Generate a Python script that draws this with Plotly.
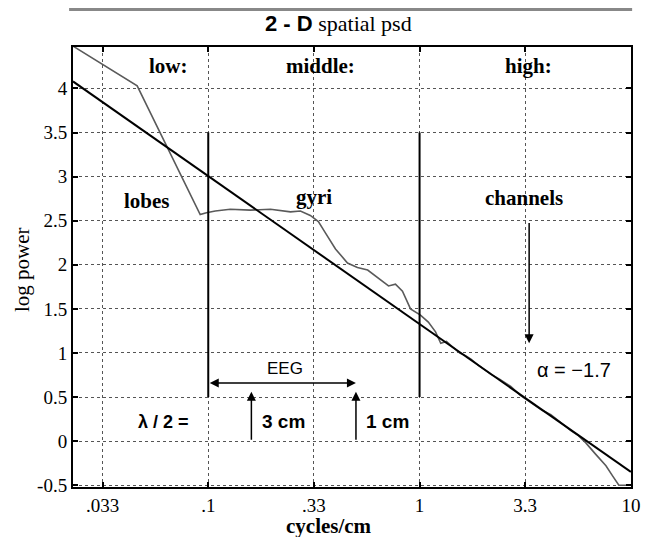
import math
import plotly.graph_objects as go

# ---- data ----
psd_freq = [0.0229, 0.0461, 0.0916, 0.098, 0.108, 0.127, 0.158, 0.197, 0.245, 0.273,
            0.304, 0.332, 0.359, 0.400, 0.456, 0.508, 0.568, 0.653, 0.713, 0.769,
            0.830, 0.906, 1.01, 1.10, 1.19, 1.26, 1.34, 1.43, 1.55, 1.65, 1.75, 1.9,
            2.17, 2.4, 2.70, 3.0, 3.36, 3.8, 4.18, 4.6, 5.20, 5.6, 6.12, 6.82, 7.62,
            8.22, 8.77, 10.0]
psd_logpow = [4.48, 4.03, 2.57, 2.59, 2.61, 2.63, 2.62, 2.63, 2.60, 2.61,
              2.56, 2.49, 2.36, 2.18, 2.02, 1.97, 1.94, 1.83, 1.76, 1.78,
              1.70, 1.50, 1.43, 1.35, 1.24, 1.11, 1.13, 1.07, 1.00, 0.97, 0.93, 0.86,
              0.76, 0.70, 0.62, 0.52, 0.44, 0.35, 0.30, 0.22, 0.12, 0.07, -0.02, -0.15, -0.28,
              -0.40, -0.50, -0.50]
fit_freq = [0.0229, 10.0]
fit_logpow = [4.08, -0.35]
band_bounds = [0.1, 1.0]
x_tickvals = [0.0316, 0.1, 0.316, 1.0, 3.16, 10.0]
x_ticktext = [".033", ".1", ".33", "1", "3.3", "10"]
y_tickvals = [-0.5, 0, 0.5, 1, 1.5, 2, 2.5, 3, 3.5, 4]
y_ticktext = ["-0.5", "0", "0.5", "1", "1.5", "2", "2.5", "3", "3.5", "4"]
eeg_range = [0.1, 0.5]
lambda_marks = [0.16, 0.5]

SERIF = "Liberation Serif"
SANS = "Liberation Sans"
L = math.log10

fig = go.Figure()
fig.add_trace(go.Scatter(x=psd_freq, y=psd_logpow, mode="lines",
                         line=dict(color="#5a5a5a", width=1.6), showlegend=False))
fig.add_trace(go.Scatter(x=fit_freq, y=fit_logpow, mode="lines",
                         line=dict(color="black", width=2), showlegend=False))
for b in band_bounds:
    fig.add_trace(go.Scatter(x=[b, b], y=[3.5, 0.5], mode="lines",
                             line=dict(color="black", width=2), showlegend=False))

ann = []
# region labels
for txt, fx, fy in [("low:", 0.0646, 4.25), ("middle:", 0.340, 4.25), ("high:", 3.29, 4.25),
                    ("lobes", 0.0514, 2.72), ("gyri", 0.315, 2.77), ("channels", 3.11, 2.76)]:
    ann.append(dict(x=L(fx), y=fy, text="<b>%s</b>" % txt, showarrow=False,
                    font=dict(family=SERIF, size=21, color="black")))
# channels arrow
ann.append(dict(x=L(3.3), y=1.11, ax=L(3.3), ay=2.49, axref="x", ayref="y", xref="x", yref="y",
                text="", showarrow=True, arrowhead=2, arrowsize=1.2, arrowwidth=1.5, arrowcolor="black"))
ann.append(dict(x=L(5.37), y=0.81, text="\u03b1 = \u22121.7", showarrow=False,
                font=dict(family=SANS, size=20, color="black")))
# EEG double arrow
ann.append(dict(x=L(eeg_range[1]), y=0.66, ax=L(eeg_range[0]), ay=0.66, axref="x", ayref="y",
                xref="x", yref="y", text="", showarrow=True, arrowhead=2, arrowside="end+start",
                arrowsize=1.2, arrowwidth=1.5, arrowcolor="black"))
ann.append(dict(x=L(0.232), y=0.82, text="EEG", showarrow=False,
                font=dict(family=SANS, size=17, color="black")))
# lambda arrows
for lm in lambda_marks:
    ann.append(dict(x=L(lm), y=0.56, ax=L(lm), ay=0.0, axref="x", ayref="y", xref="x", yref="y",
                    text="", showarrow=True, arrowhead=2, arrowsize=1.2, arrowwidth=1.5,
                    arrowcolor="black"))
ann.append(dict(x=L(0.0612), y=0.22, text="<b>\u03bb / 2 =</b>", showarrow=False,
                font=dict(family=SANS, size=18, color="black")))
ann.append(dict(x=L(0.227), y=0.22, text="<b>3 cm</b>", showarrow=False,
                font=dict(family=SANS, size=19, color="black")))
ann.append(dict(x=L(0.705), y=0.22, text="<b>1 cm</b>", showarrow=False,
                font=dict(family=SANS, size=19, color="black")))
# title
ann.append(dict(x=(338 - 73) / 558, y=1 + (47 - 23) / 440, xref="paper", yref="paper",
                xanchor="center", yanchor="middle",
                text="<span style='font-family:Liberation Sans'><b>2 - D</b></span> spatial psd",
                showarrow=False, font=dict(family=SERIF, size=22, color="black")))
# axis titles
ann.append(dict(x=(329 - 73) / 558, y=-(526 - 487) / 440, xref="paper", yref="paper",
                xanchor="center", yanchor="middle",
                text="<b>cycles/cm</b>", showarrow=False,
                font=dict(family=SERIF, size=21, color="black")))
ann.append(dict(x=-(73 - 22) / 558, y=(487 - 270) / 440, xref="paper", yref="paper",
                xanchor="center", yanchor="middle",
                text="log power", textangle=-90, showarrow=False,
                font=dict(family=SERIF, size=21, color="black")))

axis_common = dict(showline=True, linecolor="black", linewidth=2, mirror="ticks",
                   ticks="inside", ticklen=5, tickwidth=1.5, tickcolor="black",
                   showgrid=True, gridcolor="#555", griddash="dot", gridwidth=1,
                   zeroline=False)

fig.update_layout(
    width=644, height=529,
    margin=dict(l=65, r=21, t=39, b=50),
    paper_bgcolor="white", plot_bgcolor="white",
    font=dict(family=SERIF, size=19, color="black"),
    xaxis=dict(type="log", range=[-1.64, 1.0005], tickvals=x_tickvals, ticktext=x_ticktext,
               **axis_common),
    yaxis=dict(range=[-0.52, 4.47], tickvals=y_tickvals, ticktext=y_ticktext, **axis_common),
    annotations=ann,
    shapes=[dict(type="rect", xref="paper", yref="paper", x0=-0.007, x1=1.002,
                 y0=1 + 36 / 440, y1=1 + 39 / 440, fillcolor="#888", line=dict(width=0))],
)
fig.update_xaxes(tickfont=dict(family=SERIF, size=19, color="black"))
fig.update_yaxes(tickfont=dict(family=SERIF, size=19, color="black"))

fig.write_html("out.html")
